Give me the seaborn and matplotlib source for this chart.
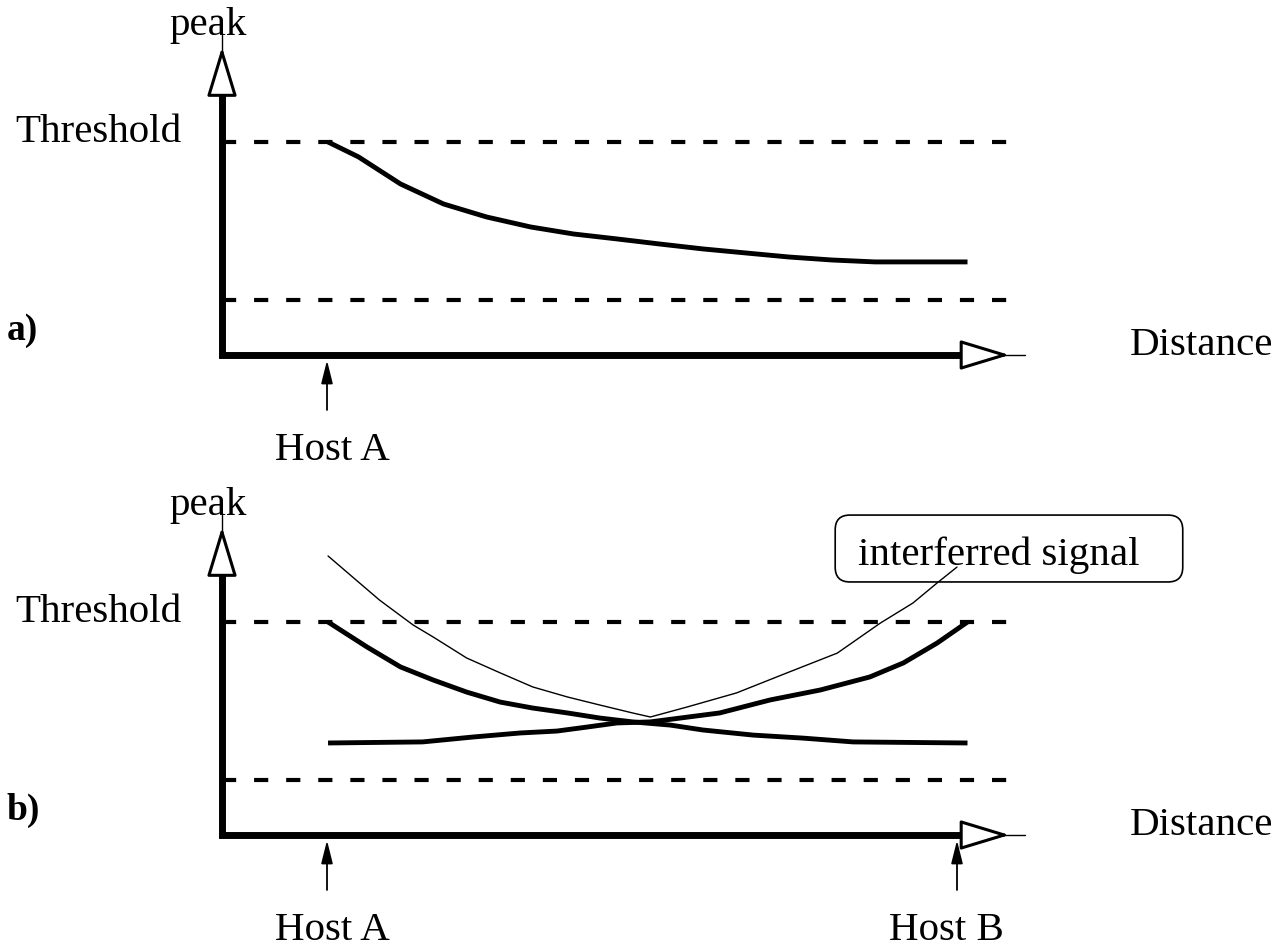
import numpy as np
import pandas as pd
import seaborn as sns
import matplotlib.pyplot as plt
from matplotlib.patches import FancyBboxPatch

# %% data: distance in host spacings, peak relative to the threshold
threshold = 1.0
floor_level = 0.26
host_a = 1.0
host_b = 7.0

# a) single sender
a_dist = [1.01, 1.30, 1.70, 2.11, 2.52, 2.94, 3.35, 3.76, 4.17, 4.58, 4.99, 5.40, 5.81, 6.22, 7.10]
a_peak = [1.000, 0.930, 0.803, 0.709, 0.648, 0.601, 0.568, 0.545, 0.521, 0.498, 0.479, 0.460, 0.446, 0.437, 0.437]

# b) two senders + interferred signal
b_dist_a = [1.01, 1.38, 1.70, 2.01, 2.33, 2.65, 2.96, 3.29, 3.60, 3.91, 4.27, 4.58, 5.06, 5.53, 6.01, 7.10]
b_peak_a = [1.000, 0.883, 0.789, 0.728, 0.671, 0.624, 0.596, 0.573, 0.549, 0.531, 0.516, 0.493, 0.469, 0.455, 0.437, 0.432]

b_dist_b = [1.01, 1.91, 2.39, 2.84, 3.19, 3.48, 3.76, 4.08, 4.74, 5.22, 5.70, 6.17, 6.49, 6.81, 7.10]
b_peak_b = [0.432, 0.437, 0.460, 0.479, 0.488, 0.507, 0.526, 0.531, 0.573, 0.634, 0.681, 0.742, 0.808, 0.901, 1.000]

b_dist_mix = [1.01, 1.50, 1.82, 2.01, 2.33, 2.65, 2.96, 3.29, 3.60, 3.91, 4.08, 4.43, 4.90, 5.38, 5.86, 6.27, 6.58, 6.81, 7.00]
b_peak_mix = [1.310, 1.103, 0.986, 0.930, 0.831, 0.761, 0.695, 0.648, 0.610, 0.573, 0.554, 0.601, 0.667, 0.761, 0.854, 0.995, 1.089, 1.183, 1.258]

# %% style
sns.set_theme(style='white')
plt.rcParams['font.family'] = ['Liberation Serif', 'DejaVu Serif']
plt.rcParams['text.color'] = 'black'
FS = 29.5

fig = plt.figure(figsize=(12.79, 9.51), dpi=100)
fig.patch.set_facecolor('white')

ax_a = fig.add_axes([0, 476 / 951, 1, 475 / 951])
ax_b = fig.add_axes([0, 0, 1, 476 / 951])
ax_a.set_ylim(-120 / 213, 355 / 213)
ax_b.set_ylim(-116 / 213, 360 / 213)


def draw_frame(ax, label, hosts):
    ax.set_xlim(-222 / 105, 1057 / 105)
    ax.axis('off')

    # threshold and lower dashed levels
    ax.hlines([threshold, floor_level], 0, 7.5, colors='black', lw=3,
              linestyles=[(0, (3.4, 4.3))], capstyle='butt')

    # thick axes
    ax.plot([0, 0, 7.10], [1.244, 0, 0], color='black', lw=5,
            solid_joinstyle='miter', solid_capstyle='butt')
    head = dict(arrowstyle='-|>,head_length=3.1,head_width=0.94', mutation_scale=10,
                lw=2.2, fc='white', ec='black', shrinkA=0, shrinkB=0)
    ax.annotate('', xy=(0, 1.446), xytext=(0, 1.244), arrowprops=head)
    ax.annotate('', xy=(7.50, 0), xytext=(7.10, 0), arrowprops=head)
    ax.plot([0, 0], [1.42, 1.502], color='black', lw=1)
    ax.plot([7.40, 7.65], [0, 0], color='black', lw=1)

    ax.text(-0.13, 1.502, 'peak', ha='center', va='baseline', fontsize=FS)
    ax.text(-1.97, threshold, 'Threshold', ha='left', va='baseline', fontsize=FS)
    ax.text(-2.05, 0.07, label, ha='left', va='baseline', fontsize=27, fontweight='bold')
    ax.text(8.65, 0, 'Distance', ha='left', va='baseline', fontsize=FS)

    tick = dict(arrowstyle='-|>,head_length=1.4,head_width=0.35', mutation_scale=10,
                lw=1.3, fc='black', ec='black', shrinkA=0, shrinkB=0)
    for name, pos, shift in hosts:
        ax.annotate('', xy=(pos, -0.025), xytext=(pos, -0.258), arrowprops=tick)
        ax.text(pos + shift, -0.493, name, ha='center', va='baseline', fontsize=FS)


draw_frame(ax_a, 'a)', [('Host A', host_a, 0.05)])
draw_frame(ax_b, 'b)', [('Host A', host_a, 0.05), ('Host B', host_b, -0.1)])

# %% curves
sns.lineplot(x=a_dist, y=a_peak, ax=ax_a, color='black', lw=3.5, sort=False,
             estimator=None, solid_capstyle='butt')
sns.lineplot(x=b_dist_a, y=b_peak_a, ax=ax_b, color='black', lw=3.5, sort=False,
             estimator=None, solid_capstyle='butt')
sns.lineplot(x=b_dist_b, y=b_peak_b, ax=ax_b, color='black', lw=3.5, sort=False,
             estimator=None, solid_capstyle='butt')
sns.lineplot(x=b_dist_mix, y=b_peak_mix, ax=ax_b, color='black', lw=1.0, sort=False,
             estimator=None)

# callout box
box = FancyBboxPatch((5.84, 1.188), 9.15 - 5.84, 1.502 - 1.188,
                     boxstyle='round,pad=0,rounding_size=0.14', mutation_aspect=105 / 213,
                     fc='none', ec='black', lw=1.2)
ax_b.add_patch(box)
ax_b.text(6.06, 1.268, 'interferred signal', ha='left', va='baseline', fontsize=FS)

for ax in (ax_a, ax_b):
    ax.set_xlim(-222 / 105, 1057 / 105)

plt.savefig('out.png', dpi=100, facecolor='white')
